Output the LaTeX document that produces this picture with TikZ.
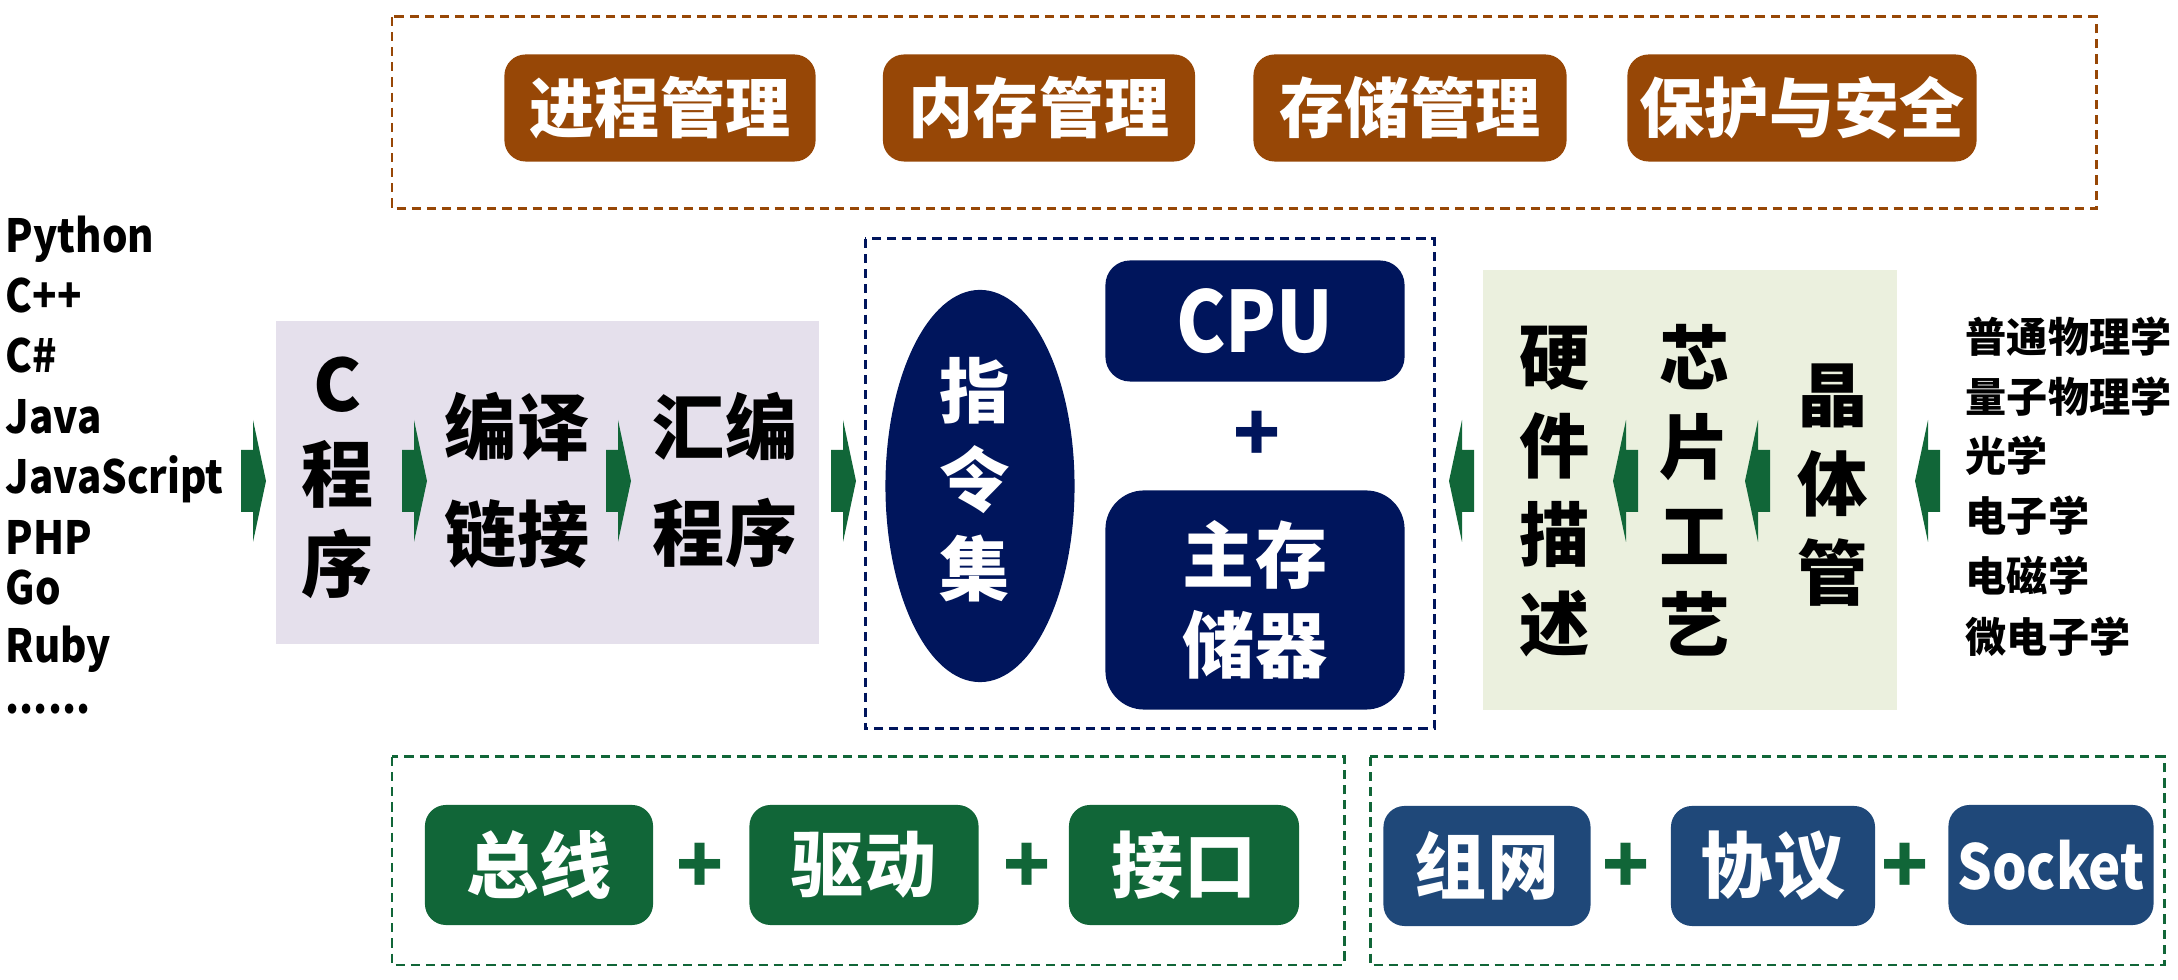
\documentclass[tikz,border=0pt]{standalone}
\usepackage{fontspec}
\setmainfont{Noto Sans CJK SC}
\newfontfamily\latinfont{Noto Sans CJK SC}[FakeStretch=0.88]
\usetikzlibrary{shapes.geometric}
\definecolor{brownbox}{HTML}{974706}
\definecolor{navybox}{HTML}{00155C}
\definecolor{greenbox}{HTML}{116638}
\definecolor{bluebox}{HTML}{1F4879}
\definecolor{lavender}{HTML}{E5E0EC}
\definecolor{palegreen}{HTML}{EBF0DE}
\tikzset{
  rarrow/.pic={\fill[greenbox] (-12,-31) -- (0,-31) -- (0,-61) -- (13,0) -- (0,61) -- (0,31) -- (-12,31) -- cycle;},
  larrow/.pic={\fill[greenbox] (12,-31) -- (0,-31) -- (0,-61) -- (-13,0) -- (0,61) -- (0,31) -- (12,31) -- cycle;}
}

\begin{document}
\begin{tikzpicture}[x=0.01cm,y=-0.01cm,
  frame/.style={line width=0.85pt,dash pattern=on 2.6pt off 1.7pt},
  tag/.style={rounded corners=6pt,fill=#1,text=white,inner sep=0pt},
  big/.style={font=\bfseries\fontsize{20.5pt}{25.6pt}\selectfont,align=center,inner sep=0pt},
  lang/.style={anchor=base west,inner sep=0pt,font=\latinfont\bfseries\fontsize{13pt}{15pt}\selectfont},
  sci/.style={anchor=west,inner sep=0pt,font=\bfseries\fontsize{11.7pt}{14pt}\selectfont},
  plus/.style={inner sep=0pt,font=\bfseries\fontsize{22pt}{24pt}\selectfont,text=#1}]
\useasboundingbox (0,0) rectangle (2178,980);

% dashed frames
\draw[frame,brownbox] (392,17) rectangle (2096,209);
\draw[frame,navybox] (865,239) rectangle (1434,729);
\draw[frame,greenbox] (392,757) rectangle (1344,965);
\draw[frame,greenbox] (1370,757) rectangle (2164,965);

% top row: OS
\begin{scope}[every node/.style={tag=brownbox,minimum height=1.07cm,font=\bfseries\fontsize{18.5pt}{22pt}\selectfont}]
\node[minimum width=3.11cm] (proc) at (660,108) {进程管理};
\node[minimum width=3.12cm] (mem) at (1039,108) {内存管理};
\node[minimum width=3.13cm] (stor) at (1410,108) {存储管理};
\node[minimum width=3.49cm] (prot) at (1802,108) {保护与安全};
\end{scope}

% languages
\node[lang] (py) at (5,253) {Python};
\node[lang] (cpp) at (5,313) {C++};
\node[lang] (cs) at (5,373) {C\#};
\node[lang] (java) at (5,434) {Java};
\node[lang] (js) at (5,494) {JavaScript};
\node[lang] (php) at (5,555) {PHP};
\node[lang] (go) at (5,605) {Go};
\node[lang] (ruby) at (5,663) {Ruby};
\node[lang] (dots) at (5,714) {......};

% software chain
\fill[lavender] (276,321) rectangle (819,644);
\node[big] (cprog) at (338,478) {C\\程\\序};
\node[big,font=\bfseries\fontsize{20.5pt}{30.4pt}\selectfont] (link) at (517,480) {编译\\链接};
\node[big,font=\bfseries\fontsize{20.5pt}{30.4pt}\selectfont] (asm) at (725,480) {汇编\\程序};

\pic at (253,481) {rarrow};
\pic at (414,481) {rarrow};
\pic at (618,481) {rarrow};
\pic at (843,481) {rarrow};

% ISA
\node[ellipse,fill=navybox,minimum width=1.89cm,minimum height=3.92cm,inner sep=0pt] (isa) at (980,486) {};
\node[big,text=white,font=\bfseries\fontsize{20pt}{25.3pt}\selectfont] (isatext) at (975,480) {指\\令\\集};
\node[tag=navybox,rounded corners=7pt,minimum width=2.99cm,minimum height=1.21cm,font=\latinfont\bfseries\fontsize{24pt}{26pt}\selectfont] (cpu) at (1255,321) {CPU};
\node[plus=navybox] (plus1) at (1257,436) {+};
\node[tag=navybox,rounded corners=11pt,minimum width=2.99cm,minimum height=2.19cm,big,text=white] (main) at (1255,600) {主存\\储器};

% hardware chain
\fill[palegreen] (1483,270) rectangle (1897,710);
\node[big,font=\bfseries\fontsize{20pt}{25.3pt}\selectfont] (hdl) at (1555,492) {硬\\件\\描\\述};
\node[big,font=\bfseries\fontsize{20pt}{25.3pt}\selectfont] (chip) at (1695,490) {芯\\片\\工\\艺};
\node[big,font=\bfseries\fontsize{20pt}{25.3pt}\selectfont] (trans) at (1833,485) {晶\\体\\管};

\pic at (1462,481) {larrow};
\pic at (1626,481) {larrow};
\pic at (1758,481) {larrow};
\pic at (1928,481) {larrow};

% sciences
\node[sci] (phys) at (1965,337) {普通物理学};
\node[sci] (qphys) at (1965,397) {量子物理学};
\node[sci] (optics) at (1965,456) {光学};
\node[sci] (elec) at (1965,516) {电子学};
\node[sci] (em) at (1965,576) {电磁学};
\node[sci] (micro) at (1965,637) {微电子学};

% bottom row: IO and network
\begin{scope}[every node/.style={tag=greenbox,minimum height=1.2cm,font=\bfseries\fontsize{20.5pt}{22pt}\selectfont}]
\node[minimum width=2.28cm] (bus) at (539,865) {总线};
\node[minimum width=2.29cm] (drv) at (864,865) {驱动};
\node[minimum width=2.30cm] (port) at (1184,865) {接口};
\end{scope}
\node[plus=greenbox] (plus2) at (700,868) {+};
\node[plus=greenbox] (plus3) at (1027,868) {+};

\begin{scope}[every node/.style={tag=bluebox,minimum height=1.2cm,font=\bfseries\fontsize{20.5pt}{22pt}\selectfont}]
\node[minimum width=2.07cm] (net) at (1487,866) {组网};
\node[minimum width=2.04cm] (proto) at (1773,866) {协议};
\node[minimum width=2.05cm,font=\latinfont\bfseries\fontsize{17.6pt}{20pt}\selectfont] (sock) at (2051,865) {Socket};
\end{scope}
\node[plus=greenbox] (plus4) at (1626,868) {+};
\node[plus=greenbox] (plus5) at (1905,868) {+};
\end{tikzpicture}
\end{document}
